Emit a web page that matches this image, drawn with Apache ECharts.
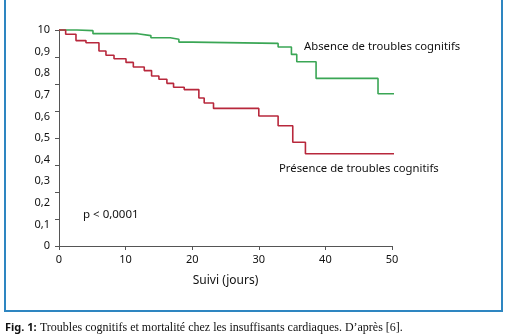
<!DOCTYPE html>
<html>
<head>
<meta charset="utf-8">
<script src="https://cdn.jsdelivr.net/npm/echarts@6/dist/echarts.min.js"></script>
<style>html,body{margin:0;padding:0;background:#fff;}#c{width:510px;height:336px;}</style>
</head>
<body>
<div id="c"></div>
<script>
// Kaplan-Meier steps: [jours, survie]
var absenceData = [[0,1],[2.7,0.997],[5.1,0.983],[11.8,0.974],[13.8,0.964],[16.7,0.957],[18,0.944],[20,0.938],[32.9,0.921],[34.9,0.887],[35.7,0.853],[38.6,0.776],[47.9,0.705],[51.5,0.705]];
var presenceData = [[0,1],[1,0.98],[2.55,0.951],[4.05,0.941],[6,0.903],[7.05,0.883],[8.26,0.867],[10.06,0.85],[11.16,0.829],[12.8,0.812],[13.9,0.787],[15,0.772],[16.2,0.753],[17.2,0.735],[18.8,0.724],[21,0.685],[21.8,0.662],[23.2,0.637],[30,0.602],[32.9,0.557],[35.1,0.48],[37,0.427],[51.5,0.427]];
var xTicks = [0,10,20,30,40,50];
var yLabels = ['0','0,1','0,2','0,3','0,4','0,5','0,6','0,7','0,8','0,9','10'];
var seriesNames = ['Absence de troubles cognitifs','Présence de troubles cognitifs'];
var pText = 'p < 0,0001';
var xName = 'Suivi (jours)';
var caption = "Troubles cognitifs et mortalité chez les insuffisants cardiaques. D’après [6].";

var font = 'Noto Sans';
var chart = echarts.init(document.getElementById('c'));
var axisCol = '#555';
chart.setOption({
  animation: false,
  grid: {left: 59, right: 118, top: 30, bottom: 90},
  xAxis: {
    type: 'value', min: 0, max: 50, interval: 10,
    name: xName, nameLocation: 'middle', nameGap: 29,
    nameTextStyle: {fontFamily: font, fontSize: 12, color: '#111'},
    axisLine: {lineStyle: {color: axisCol, width: 1}},
    axisTick: {show: true, length: 4, lineStyle: {color: axisCol}},
    axisLabel: {fontFamily: font, fontSize: 11, color: '#111', margin: 8,
      formatter: function(v){ return xTicks.indexOf(v) >= 0 ? String(v) : ''; }},
    splitLine: {show: false}
  },
  yAxis: [{
    type: 'value', min: 0, max: 1, interval: 0.125,
    axisLine: {show: true, lineStyle: {color: axisCol, width: 1}},
    axisTick: {show: true, length: 4, lineStyle: {color: axisCol}},
    axisLabel: {show: false},
    splitLine: {show: false}
  }, {
    type: 'value', min: 0, max: 1, interval: 0.1, position: 'left',
    axisLine: {show: false}, axisTick: {show: false}, splitLine: {show: false},
    axisLabel: {fontFamily: font, fontSize: 11, color: '#111', margin: 9,
      formatter: function(v){ return yLabels[Math.round(v*10)]; }}
  }],
  series: [{
    name: seriesNames[0], type: 'line', step: 'end', data: absenceData,
    showSymbol: false, clip: false, lineStyle: {color: '#3aa655', width: 1.6}
  }, {
    name: seriesNames[1], type: 'line', step: 'end', data: presenceData,
    showSymbol: false, clip: false, lineStyle: {color: '#b8283c', width: 1.6}
  }],
  graphic: [
    {type: 'rect', shape: {x: 5, y: -10, width: 497, height: 321}, style: {fill: 'none', stroke: '#2e86c1', lineWidth: 2}},
    {type: 'text', left: 304, top: 41, style: {text: seriesNames[0], font: '11.3px "Noto Sans"', fill: '#111'}},
    {type: 'text', left: 279, top: 163, style: {text: seriesNames[1], font: '11.3px "Noto Sans"', fill: '#111'}},
    {type: 'text', left: 83, top: 209, style: {text: pText, font: '11.5px "Noto Sans"', fill: '#111'}},
    {type: 'text', left: 5, top: 322, style: {
      text: '{b|Fig. 1:} {r|' + caption + '}',
      rich: {b: {fontFamily: font, fontWeight: 'bold', fontSize: 11, fill: '#111'},
             r: {fontFamily: 'Liberation Serif', fontSize: 12, fill: '#111'}}}}
  ]
});
</script>
</body>
</html>
